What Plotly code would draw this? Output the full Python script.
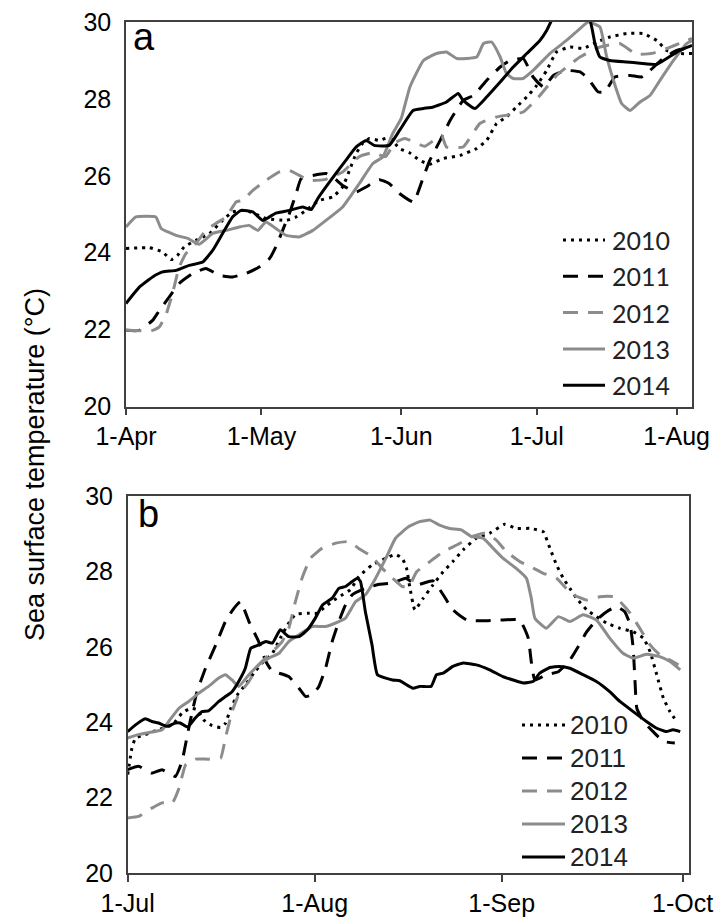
import pandas as pd
import plotly.graph_objects as go

# ---------------- Panel a: 1 Apr - early Aug (days since 1 Apr) ----------------
a_day_2010 = [0, 5.2, 8.1, 10.0, 11.4, 12.9, 15.5, 18.5, 21.4, 23.6, 26.6, 31.0, 35.5, 37.7, 39.9,
              42.8, 45.8, 48.0, 49.5, 51.0, 52.4, 53.9, 56.1, 58.3, 60.6, 62.8, 65.1, 67.3, 70.3,
              74.0, 77.7, 79.9, 82.1, 84.3, 86.5, 88.8, 91.0, 93.2, 95.4, 98.4, 101.3, 104.3,
              107.2, 110.9, 114.6, 117.6, 119.8, 122.7, 125.4]
a_sst_2010 = [24.11, 24.13, 24.02, 23.82, 23.93, 24.15, 24.32, 24.50, 24.84, 25.06, 25.10, 24.89,
              24.84, 24.93, 25.10, 25.36, 25.45, 25.71, 26.14, 26.58, 26.84, 26.97, 26.92, 27.00,
              26.71, 26.60, 26.40, 26.30, 26.45, 26.53, 26.71, 26.92, 27.36, 27.53, 27.79, 28.05,
              28.35, 28.74, 29.22, 29.35, 29.31, 29.48, 29.61, 29.70, 29.70, 29.52, 29.26, 29.18,
              29.18]

a_day_2011 = [0, 2.95, 5.9, 7.4, 9.6, 11.8, 14.8, 17.7, 20.7, 23.6, 26.6, 29.5, 31.8, 33.2, 34.7,
              36.2, 37.7, 38.8, 41.4, 44.3, 46.2, 48.0, 51.0, 53.2, 56.1, 58.3, 60.6, 63.7, 65.9,
              67.3, 69.6, 71.8, 74.7, 77.0, 79.9, 82.9, 85.1, 88.0, 90.2, 92.5, 94.7, 97.6, 100.6,
              102.4, 104.6, 106.1, 108.3, 111.7, 114.2, 116.1, 119.0, 122.0, 125.4]
a_sst_2011 = [21.98, 21.98, 22.24, 22.50, 22.85, 23.20, 23.46, 23.59, 23.41, 23.37, 23.46, 23.63,
              23.85, 24.15, 24.58, 25.02, 25.54, 25.93, 26.01, 26.06, 25.93, 25.75, 25.58, 25.71,
              25.90, 25.80, 25.54, 25.32, 25.97, 26.40, 26.92, 27.44, 27.96, 28.09, 28.48, 28.83,
              29.00, 29.05, 28.57, 28.31, 28.61, 28.74, 28.70, 28.53, 28.18, 28.18, 28.57, 28.61,
              28.57, 28.74, 29.05, 29.26, 29.35]

a_day_2012 = [0, 5.9, 7.4, 8.9, 10.3, 11.8, 13.3, 15.5, 17.7, 19.9, 22.2, 24.4, 25.8, 28.1, 31.0,
              34.0, 36.2, 38.4, 40.6, 44.0, 48.0, 51.7, 54.7, 57.5, 59.5, 61.8, 66.2, 69.9, 71.0,
              74.7, 78.4, 82.1, 88.0, 91.7, 95.4, 100.6, 105.0, 109.4, 113.1, 116.8, 119.8, 124.2,
              125.4]
a_sst_2012 = [21.98, 21.98, 22.07, 22.40, 22.94, 23.63, 23.98, 24.24, 24.58, 24.76, 24.93, 25.32,
              25.36, 25.62, 25.88, 26.10, 26.14, 26.01, 25.88, 25.90, 26.10, 26.50, 26.60, 26.50,
              26.85, 26.97, 26.77, 27.05, 26.75, 26.75, 27.36, 27.53, 27.66, 28.09, 28.61, 29.09,
              29.35, 29.44, 29.16, 29.19, 29.31, 29.52, 29.57]

a_day_2013 = [0, 2.2, 6.6, 7.8, 11.1, 13.7, 16.2, 19.2, 22.2, 25.1, 27.3, 29.2, 31.0, 33.2, 35.5,
              38.4, 41.4, 44.3, 48.0, 51.7, 54.7, 56.9, 59.1, 61.0, 62.9, 65.9, 68.8, 71.0, 73.3,
              77.7, 79.2, 81.0, 82.9, 84.3, 85.8, 88.0, 90.2, 93.9, 97.6, 100.6, 102.4, 105.0,
              106.5, 108.0, 109.8, 111.7, 113.9, 116.1, 118.3, 121.3, 124.2, 125.4]
a_sst_2013 = [24.67, 24.93, 24.93, 24.63, 24.45, 24.37, 24.22, 24.50, 24.58, 24.67, 24.71, 24.58,
              24.80, 24.63, 24.45, 24.41, 24.58, 24.84, 25.19, 25.80, 26.32, 26.49, 27.10, 27.50,
              28.31, 29.00, 29.18, 29.22, 29.05, 29.09, 29.44, 29.48, 29.09, 28.66, 28.53, 28.53,
              28.74, 29.18, 29.52, 29.83, 30.00, 29.87, 29.09, 28.48, 27.88, 27.70, 27.92, 28.09,
              28.48, 29.00, 29.44, 29.52]

a_day_2014 = [0, 3.0, 5.9, 8.1, 11.1, 14.0, 17.0, 19.2, 21.4, 23.6, 25.5, 28.1, 30.3, 33.2, 36.2,
              39.1, 41.0, 42.5, 44.3, 46.5, 48.7, 51.0, 53.2, 55.0, 58.3, 60.6, 63.6, 65.9, 68.1,
              71.0, 73.6, 74.7, 77.3, 79.9, 82.9, 85.8, 88.8, 91.7, 93.2, 95.0, 97.5, 100.0, 102.8,
              103.9, 105.0, 107.2, 110.9, 113.9, 117.6, 119.8, 122.7, 125.4]
a_sst_2014 = [22.68, 23.11, 23.37, 23.50, 23.54, 23.67, 23.76, 24.06, 24.50, 24.93, 25.10, 25.06,
              24.84, 25.03, 25.10, 25.19, 25.12, 25.41, 25.71, 26.06, 26.40, 26.75, 26.92, 26.79,
              26.79, 27.18, 27.70, 27.75, 27.79, 27.92, 28.14, 27.96, 27.75, 28.05, 28.44, 28.83,
              29.18, 29.52, 29.78, 30.20, 30.45, 30.35, 30.04, 29.44, 29.09, 29.00, 28.96, 28.93,
              28.90, 29.05, 29.26, 29.39]

# ---------------- Panel b: 1 Jul - 1 Oct (days since 1 Jul) ----------------
b_day_2010 = [0, 0.7, 1.3, 2.9, 5.1, 7.4, 9.0, 10.4, 11.5, 12.6, 14.0, 15.4, 16.2, 17.0, 18.2,
              19.5, 20.9, 22.3, 24.0, 25.3, 26.7, 27.8, 29.8, 31.4, 32.8, 34.2, 35.6, 36.9, 38.3,
              40.5, 42.8, 44.4, 45.5, 46.2, 46.8, 47.6, 49.0, 50.6, 52.3, 53.9, 55.6, 57.8, 60.0,
              62.5, 64.4, 66.7, 68.9, 70.0, 71.1, 72.2, 73.3, 74.4, 76.1, 77.7, 79.4, 81.6, 83.8,
              85.5, 86.6, 87.7, 88.8, 89.9, 91.0]
b_sst_2010 = [22.61, 23.31, 23.58, 23.67, 23.80, 23.93, 24.24, 24.37, 24.33, 24.06, 23.91, 23.86,
              23.97, 24.33, 24.73, 24.99, 25.30, 25.57, 25.83, 26.23, 26.63, 26.86, 26.89, 26.89,
              27.07, 27.24, 27.38, 27.51, 27.86, 28.17, 28.35, 28.45, 28.35, 28.10, 27.55, 26.98,
              27.29, 27.64, 27.99, 28.26, 28.57, 28.88, 29.01, 29.25, 29.14, 29.14, 29.05, 28.61,
              28.17, 27.82, 27.55, 27.29, 26.98, 26.80, 26.63, 26.49, 26.40, 26.23, 25.87, 25.26,
              24.64, 24.28, 24.02]

b_day_2011 = [0, 1.8, 4.0, 5.7, 7.9, 9.0, 9.9, 10.7, 11.5, 12.9, 14.6, 16.2, 17.6, 18.7, 20.1,
              21.7, 22.9, 24.0, 25.1, 26.7, 28.4, 29.5, 30.6, 31.7, 32.8, 33.9, 35.0, 36.1, 37.2,
              39.4, 41.7, 43.9, 46.1, 47.9, 50.6, 52.3, 53.9, 56.2, 58.9, 61.7, 65.0, 66.4, 66.9,
              67.5, 69.4, 71.4, 73.3, 74.7, 76.1, 77.7, 79.4, 81.0, 82.4, 83.3, 83.8, 84.1, 84.4,
              85.5, 87.1, 88.8, 90.7]
b_sst_2011 = [22.74, 22.83, 22.65, 22.74, 22.56, 22.96, 23.67, 24.28, 24.81, 25.43, 26.05, 26.67,
              27.02, 27.20, 26.67, 26.14, 25.61, 25.34, 25.30, 25.21, 24.90, 24.68, 24.73, 24.95,
              25.43, 26.14, 26.67, 27.11, 27.38, 27.55, 27.66, 27.69, 27.82, 27.64, 27.75, 27.38,
              26.98, 26.71, 26.69, 26.71, 26.71, 26.23, 25.61, 25.12, 25.26, 25.34, 25.65, 26.01,
              26.40, 26.71, 26.93, 27.07, 26.93, 26.58, 25.96, 25.08, 24.37, 24.02, 23.75, 23.49,
              23.45]

b_day_2012 = [0, 1.8, 4.0, 5.7, 7.4, 8.5, 9.6, 11.2, 13.4, 15.4, 16.2, 17.3, 18.4, 20.1, 21.7,
              24.0, 25.6, 26.7, 27.8, 28.9, 30.3, 32.2, 34.5, 36.7, 38.3, 40.5, 42.2, 43.9, 45.5,
              46.6, 47.9, 50.1, 52.3, 54.8, 57.0, 59.2, 61.1, 62.8, 65.0, 66.7, 68.9, 71.1, 72.7,
              73.9, 76.1, 78.3, 80.5, 81.6, 83.3, 84.9, 86.6, 88.2, 89.9, 91.3]
b_sst_2012 = [21.46, 21.50, 21.72, 21.86, 21.86, 22.25, 22.87, 23.02, 23.02, 23.05, 23.58, 24.28,
              24.73, 25.08, 25.52, 25.87, 26.14, 26.49, 27.20, 27.82, 28.35, 28.61, 28.75, 28.79,
              28.61, 28.39, 28.08, 27.82, 27.60, 27.60, 27.99, 28.26, 28.52, 28.72, 28.92, 29.01,
              28.83, 28.52, 28.26, 28.13, 27.95, 27.82, 27.55, 27.38, 27.24, 27.33, 27.33, 27.20,
              26.89, 26.49, 26.05, 25.79, 25.65, 25.52]

b_day_2013 = [0, 1.8, 4.0, 5.7, 6.8, 8.5, 10.1, 11.8, 13.4, 15.1, 16.2, 17.3, 18.4, 20.1, 21.7,
              23.4, 25.1, 26.7, 28.4, 30.6, 32.8, 35.0, 36.1, 37.8, 39.4, 41.1, 42.8, 44.4, 46.6,
              48.4, 50.1, 51.7, 53.4, 55.3, 57.0, 58.9, 60.6, 62.2, 64.4, 66.1, 66.9, 67.5, 69.4,
              71.4, 73.3, 75.5, 77.7, 79.9, 82.1, 83.8, 86.0, 88.2, 89.9, 91.6]
b_sst_2013 = [23.58, 23.67, 23.74, 23.80, 24.02, 24.37, 24.55, 24.77, 24.95, 25.17, 25.26, 25.12,
              24.95, 25.26, 25.52, 25.70, 25.83, 26.14, 26.32, 26.54, 26.54, 26.67, 26.76, 27.20,
              27.38, 27.82, 28.35, 28.88, 29.19, 29.32, 29.36, 29.23, 29.14, 29.10, 28.92, 28.88,
              28.61, 28.35, 28.08, 27.82, 27.29, 26.76, 26.49, 26.80, 26.67, 26.85, 26.71, 26.23,
              25.83, 25.70, 25.80, 25.74, 25.61, 25.39]

b_day_2014 = [0, 1.3, 2.9, 4.0, 5.1, 6.5, 7.9, 8.7, 9.9, 11.2, 12.3, 13.4, 15.1, 16.2, 17.3,
              18.4, 19.5, 20.4, 21.7, 22.9, 24.0, 25.3, 26.7, 28.4, 29.8, 31.1, 32.3, 33.9, 35.0,
              36.1, 37.2, 38.1, 38.6, 39.4, 40.5, 41.4, 43.9, 45.1, 47.3, 48.4, 50.3, 51.2, 52.3,
              53.9, 55.6, 57.8, 60.0, 62.2, 63.9, 65.6, 67.2, 68.3, 70.0, 71.6, 73.3, 75.5, 77.7,
              79.9, 81.6, 83.8, 86.0, 87.7, 89.3, 90.4, 91.6]
b_sst_2014 = [23.75, 23.93, 24.09, 24.02, 23.98, 23.89, 23.98, 23.98, 23.87, 24.11, 24.28, 24.30,
              24.55, 24.68, 24.81, 25.08, 25.43, 25.96, 26.05, 26.14, 26.10, 26.45, 26.27, 26.27,
              26.45, 26.76, 27.11, 27.29, 27.55, 27.60, 27.73, 27.82, 27.73, 26.93, 26.05, 25.26,
              25.12, 25.10, 24.90, 24.95, 24.95, 25.26, 25.30, 25.48, 25.57, 25.52, 25.39, 25.21,
              25.12, 25.04, 25.08, 25.30, 25.45, 25.48, 25.43, 25.26, 25.08, 24.81, 24.55, 24.28,
              24.02, 23.84, 23.75, 23.80, 23.75]

years = ["2010", "2011", "2012", "2013", "2014"]
a_days = [a_day_2010, a_day_2011, a_day_2012, a_day_2013, a_day_2014]
a_sst = [a_sst_2010, a_sst_2011, a_sst_2012, a_sst_2013, a_sst_2014]
b_days = [b_day_2010, b_day_2011, b_day_2012, b_day_2013, b_day_2014]
b_sst = [b_sst_2010, b_sst_2011, b_sst_2012, b_sst_2013, b_sst_2014]

a_ticks = ["2014-04-01", "2014-05-01", "2014-06-01", "2014-07-01", "2014-08-01"]
a_ticktext = ["1-Apr", "1-May", "1-Jun", "1-Jul", "1-Aug"]
b_ticks = ["2014-07-01", "2014-08-01", "2014-09-01", "2014-10-01"]
b_ticktext = ["1-Jul", "1-Aug", "1-Sep", "1-Oct"]

y_ticks = [20, 22, 24, 26, 28, 30]

BLACK = "#000000"
GREY = "#8c8c8c"
styles = {
    "2010": dict(color=BLACK, dash="3px,5px"),
    "2011": dict(color=BLACK, dash="15px,10px"),
    "2012": dict(color=GREY, dash="15px,10px"),
    "2013": dict(color=GREY, dash="solid"),
    "2014": dict(color=BLACK, dash="solid"),
}
LINE_W = 3

a_start = pd.Timestamp("2014-04-01")
b_start = pd.Timestamp("2014-07-01")


def to_dates(start, days):
    return [start + pd.Timedelta(days=d) for d in days]


fig = go.Figure()

for yr, d, t in zip(years, a_days, a_sst):
    fig.add_trace(go.Scatter(
        x=to_dates(a_start, d), y=t, mode="lines", name=yr, showlegend=False,
        line=dict(width=LINE_W, shape="spline", smoothing=0.4, **styles[yr]),
        xaxis="x", yaxis="y",
    ))

for yr, d, t in zip(years, b_days, b_sst):
    fig.add_trace(go.Scatter(
        x=to_dates(b_start, d), y=t, mode="lines", name=yr, showlegend=False,
        line=dict(width=LINE_W, shape="spline", smoothing=0.4, **styles[yr]),
        xaxis="x2", yaxis="y2",
    ))

# ---------------- page geometry (pixels) ----------------
W, H = 723, 919
ML, MR, MT, MB = 126, 31, 22, 46
PW, PH = W - ML - MR, H - MT - MB


def px(x):
    return (x - ML) / PW


def py(y):
    return (H - MB - y) / PH


AXIS_FONT = dict(family="Liberation Sans, Arial, sans-serif", size=25, color="#000000")
FRAME = "#404040"

common_x = dict(
    type="date", showgrid=False, zeroline=False, showline=True, mirror=True,
    linecolor=FRAME, linewidth=1.5, ticks="outside", ticklen=7, tickwidth=1.5,
    tickcolor=FRAME, tickfont=AXIS_FONT, automargin=False,
)
common_y = dict(
    range=[20, 30], tickvals=y_ticks, showgrid=False, zeroline=False, showline=True,
    mirror=True, linecolor=FRAME, linewidth=1.5, ticks="", tickfont=AXIS_FONT,
    ticklabelstandoff=8, automargin=False,
)

a_end = a_start + pd.Timedelta(days=125.4)
b_end = b_start + pd.Timedelta(days=93)

# ---------------- legend keys (one per year, per panel) ----------------
shapes = []
annotations = []
legend_specs = [
    # first row centre y, row step, key x0, key x1, label x, font
    (240.0, 36.3, 563, 605, 610,
     dict(family="Lato, Liberation Sans, sans-serif", size=25, color="#222222")),
    (725.0, 33.0, 522, 565, 568,
     dict(family="Liberation Sans, Arial, sans-serif", size=26, color="#222222")),
]
for y0, step, kx0, kx1, tx, font in legend_specs:
    for i, yr in enumerate(years):
        yc = y0 + i * step
        shapes.append(dict(
            type="line", xref="paper", yref="paper",
            x0=px(kx0), x1=px(kx1), y0=py(yc), y1=py(yc),
            line=dict(width=LINE_W, **styles[yr]),
        ))
        annotations.append(dict(
            text=yr, xref="paper", yref="paper", x=px(tx), y=py(yc),
            xanchor="left", yanchor="middle", showarrow=False, font=font,
        ))

annotations += [
    dict(text="a", xref="paper", yref="paper", x=px(131), y=py(14), xanchor="left",
         yanchor="top", showarrow=False,
         font=dict(family="Liberation Sans, Arial, sans-serif", size=38, color="#000")),
    dict(text="b", xref="paper", yref="paper", x=px(136), y=py(491), xanchor="left",
         yanchor="top", showarrow=False,
         font=dict(family="Liberation Sans, Arial, sans-serif", size=38, color="#000")),
    dict(text="Sea surface temperature (°C)", xref="paper", yref="paper",
         x=px(35), y=py(465), xanchor="center", yanchor="middle",
         textangle=-90, showarrow=False,
         font=dict(family="Liberation Sans, Arial, sans-serif", size=27, color="#000")),
]

fig.update_layout(
    width=W, height=H,
    margin=dict(l=ML, r=MR, t=MT, b=MB, autoexpand=False),
    paper_bgcolor="white", plot_bgcolor="white",
    showlegend=False,
    xaxis=dict(common_x, domain=[0, 1], anchor="y", range=[a_start, a_end],
               tickvals=a_ticks, ticktext=a_ticktext),
    yaxis=dict(common_y, domain=[py(406.5), 1.0], anchor="x"),
    xaxis2=dict(common_x, domain=[px(127.7), px(688.7)], anchor="y2", range=[b_start, b_end],
                tickvals=b_ticks, ticktext=b_ticktext),
    yaxis2=dict(common_y, domain=[0.0, py(496)], anchor="x2"),
    shapes=shapes,
    annotations=annotations,
)

fig.write_html("out.html")
